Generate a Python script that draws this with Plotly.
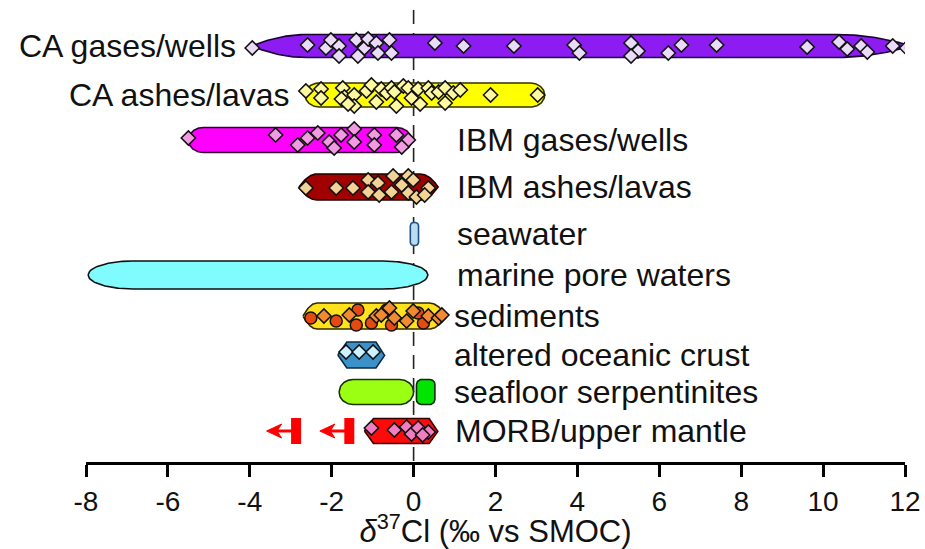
import numpy as np
import plotly.graph_objects as go

# ---- data: d37Cl ranges (permil vs SMOC) ----
rows = ["CA gases/wells", "CA ashes/lavas", "IBM gases/wells", "IBM ashes/lavas",
        "seawater", "marine pore waters", "sediments", "altered oceanic crust",
        "seafloor serpentinites", "MORB/upper mantle"]
range_lo = [-3.95, -2.65, -5.5, -2.8, -0.08, -7.95, -2.7, -1.85, -1.82, -1.2]
range_hi = [12.15, 3.2, -0.05, 0.6, 0.12, 0.35, 0.8, -0.7, 0.0, 0.6]
serp_abyssal = [0.07, 0.52]

# individual analyses (value, vertical scatter in px)
ca_gas_val = [-3.94, -2.59, -2.14, -2.02, -1.82, -1.82, -1.40, -1.36, -1.20, -1.11,
              -0.91, -0.87, -0.59, -0.54, 0.52, 1.22, 2.45, 3.92, 4.05, 5.31,
              5.48, 5.31, 6.22, 6.54, 7.40, 9.61, 10.39, 10.59, 10.93, 11.08,
              11.70, 12.04, 12.19]
ca_gas_jit = [2, -1, 2, -6, 0, 10, -6, 10, 2, -7, -3, 7, -6, 7, -3, 0, 0, -1, 7, -3,
              5, 10, 7, -1, -1, 1, -4, 3, 0, 6, 0, 2, 2]

ca_ash_val = [-2.63, -2.26, -2.26, -1.73, -1.69, -1.76, -1.45, -1.45, -1.60, -1.15,
              -1.03, -0.91, -0.79, -0.66, -0.54, -0.47, -0.42, -0.25, -0.13, -0.05,
              0.11, 0.16, 0.36, 0.44, 0.61, 0.77, 0.77, 0.97, 1.14, 1.88, 3.03]
ca_ash_jit = [-4, -6, 3, -7, 2, 4, 0, 11, 9, -4, -10, 7, -6, -2, -7, -3, 11, -9, -7, 3,
              -6, 9, -7, -2, -3, -7, 8, -2, -5, 0, 0]

ibm_gas_val = [-5.50, -3.37, -2.83, -2.59, -2.34, -2.06, -1.94, -1.77, -1.45, -1.45,
               -0.96, -0.96, -0.42, -0.13, -0.29]
ibm_gas_jit = [-2, -5, 5, -2, -7, 2, 8, -5, -11, 2, -5, 5, -5, 0, 7]

ibm_ash_val = [-2.63, -1.89, -1.48, -1.11, -0.87, -1.11, -0.84, -0.50, -0.54, -0.29,
               -0.13, -0.01, -0.13, 0.07, 0.36, 0.27]
ibm_ash_jit = [1, 1, 1, -7, -4, 5, 8, -11, 5, -2, -11, -7, 6, 10, 1, 8]

sed_dia_val = [-2.19, -1.57, -0.91, -0.79, -0.59, -0.47, -0.17, -0.01, 0.36, 0.61, 0.69]
sed_dia_jit = [0, -1, 0, -1, -8, 2, 5, -5, 0, 2, -1]
sed_cir_val = [-2.51, -1.89, -1.36, -1.40, -1.03, -0.66, -0.54, 0.24, 0.11]
sed_cir_jit = [2, 5, -6, 9, 7, -6, 9, 7, -3]

aoc_val = [-1.65, -1.33, -0.99]
aoc_jit = [-3, -3, -3]

morb_val = [-1.03, -0.47, -0.17, -0.05, 0.11, 0.36, 0.22]
morb_jit = [-3, -1, -4, 3, -3, 1, 4]

# upper limits for MORB / upper mantle
morb_upper_limits = [-2.87, -1.57]

# ---- layout geometry ----
W, H = 925, 549
ML, MR, MT, MB = 86, 20, 0, 87
X0, X1 = -8, 12
PXX = (W - ML - MR) / (X1 - X0)          # px per permil
row_y = [46, 95, 140, 187, 234, 275, 316, 355, 392, 431]   # row centres (px from top)
half_h = [11.5, 12, 12.5, 13, 11.5, 14, 13, 13, 12.5, 12.5]
# fill, outline, end style, end length (px)
row_style = [
    ("#8C1CF2", "#1a0033", "ogive", 55, 75),
    ("#FFFF00", "#333300", "round", 14, 14),
    ("#FF00FF", "#330033", "round", 15, 15),
    ("#A00000", "#220000", "ogive", 18, 18),
    ("#B8DDF2", "#1F4F7F", "rrect", 3, 3),
    ("#80FCFF", "#111111", "round", 45, 45),
    ("#FFE21C", "#332b00", "ogive", 14, 17),
    ("#3A92C8", "#0e2a40", "hex", 9, 9),
    ("#9BFF14", "#1a3300", "round", 14, 14),
    ("#FF0A0A", "#330000", "hex", 9, 9),
]


def end_profile(kind, t, hh, r):
    if kind == "round":
        return np.sqrt(np.clip(1 - (1 - t) ** 2, 0, 1))
    if kind == "ogive":
        return 1 - (1 - t) ** 2
    if kind == "rrect":
        # square end with rounded corners of radius r px
        return (hh - r + r * np.sqrt(np.clip(1 - (1 - t) ** 2, 0, 1))) / hh
    return t


def bar_outline(x0, x1, yc, hh, kind, el_px, er_px):
    t = np.linspace(0, 1, 30)
    el, er = el_px / PXX, er_px / PXX
    fl, fr = end_profile(kind, t, hh, el_px), end_profile(kind, t, hh, er_px)
    top_x = np.concatenate([x0 + el * t, (x1 - er * t)[::-1]])
    top_y = np.concatenate([yc - hh * fl, (yc - hh * fr)[::-1]])
    bot_x = top_x[::-1]
    bot_y = np.concatenate([yc + hh * fr, (yc + hh * fl)[::-1]])
    xs = np.concatenate([top_x, bot_x, top_x[:1]])
    ys = np.concatenate([top_y, bot_y, top_y[:1]])
    return xs, ys


fig = go.Figure()

# reference line at 0 permil
fig.add_shape(type="line", x0=0, x1=0, y0=10, y1=462, xref="x", yref="y",
              line=dict(color="#222222", width=1.6, dash="14px,9px"), layer="below")

for i, name in enumerate(rows):
    fill, edge, kind, el, er = row_style[i]
    xs, ys = bar_outline(range_lo[i], range_hi[i], row_y[i], half_h[i], kind, el, er)
    fig.add_trace(go.Scatter(x=xs, y=ys, mode="lines", fill="toself", fillcolor=fill,
                             line=dict(color=edge, width=1.6), hoverinfo="skip"))

# abyssal serpentinite segment
xs, ys = bar_outline(serp_abyssal[0], serp_abyssal[1], row_y[8], half_h[8], "rrect", 5, 5)
fig.add_trace(go.Scatter(x=xs, y=ys, mode="lines", fill="toself", fillcolor="#00E400",
                         line=dict(color="#0a2a0a", width=1.6), hoverinfo="skip"))


def add_points(vals, jit, row, color, symbol="diamond", size=11):
    fig.add_trace(go.Scatter(
        x=vals, y=[row_y[row] + j for j in jit], mode="markers",
        marker=dict(symbol=symbol, size=size, color=color,
                    line=dict(color="#111111", width=1.5)),
        hoverinfo="x"))


add_points(ca_gas_val, ca_gas_jit, 0, "#EADCF8")
add_points(ca_ash_val, ca_ash_jit, 1, "#FFF9A0")
add_points(ibm_gas_val, ibm_gas_jit, 2, "#F29BE2")
add_points(ibm_ash_val, ibm_ash_jit, 3, "#F2D394")
add_points(sed_cir_val, sed_cir_jit, 6, "#E44A12", symbol="circle", size=12)
add_points(sed_dia_val, sed_dia_jit, 6, "#F28A32")
add_points(aoc_val, aoc_jit, 7, "#CDF2FF")
add_points(morb_val, morb_jit, 9, "#F47CC0")

# upper-limit markers: bar + left-pointing arrow
yc = row_y[9]
for v in morb_upper_limits:
    fig.add_trace(go.Scatter(x=[v, v], y=[yc - 13, yc + 13], mode="lines",
                             line=dict(color="#FF0000", width=10), hoverinfo="skip"))
    tip = v - 0.72
    head = 15 / PXX
    fig.add_trace(go.Scatter(x=[v, tip + head * 0.6], y=[yc, yc], mode="lines",
                             line=dict(color="#FF0000", width=3), hoverinfo="skip"))
    fig.add_trace(go.Scatter(x=[tip, tip + head, tip + head * 0.7, tip + head, tip],
                             y=[yc, yc - 7, yc, yc + 7, yc], mode="lines",
                             fill="toself", fillcolor="#FF0000",
                             line=dict(color="#FF0000", width=1), hoverinfo="skip"))

# row labels
label_font = dict(family="Liberation Sans, Arial, sans-serif", size=32, color="#111111")
label_x = [-4.3, -2.98, 1.0, 1.0, 1.0, 1.0, 0.93, 0.93, 0.93, 0.96]
label_anchor = ["right", "right"] + ["left"] * 8
for i, name in enumerate(rows):
    fig.add_annotation(x=label_x[i], y=row_y[i], xref="x", yref="y", text=name,
                       showarrow=False, xanchor=label_anchor[i], yanchor="middle",
                       font=label_font)

axis_font = "Liberation Sans, Arial, sans-serif"
tick_vals = list(range(-8, 13, 2))
fig.update_layout(
    width=W, height=H, margin=dict(l=ML, r=MR, t=MT, b=MB),
    paper_bgcolor="white", plot_bgcolor="white", showlegend=False,
    xaxis=dict(range=[X0, X1], tickmode="array", tickvals=tick_vals,
               ticktext=[str(t) for t in tick_vals],
               showgrid=False, zeroline=False, showline=True, linewidth=3,
               linecolor="black", ticks="outside", ticklen=12, tickwidth=3,
               tickcolor="black",
               tickfont=dict(family=axis_font, size=28, color="#111111"),
               title=dict(text="<i>δ</i><sup>37</sup>Cl (‰ vs SMOC)", standoff=2,
                          font=dict(family=axis_font, size=31, color="#111111"))),
    yaxis=dict(range=[462, 0], visible=False, showgrid=False, zeroline=False),
)

fig.write_html("out.html")
